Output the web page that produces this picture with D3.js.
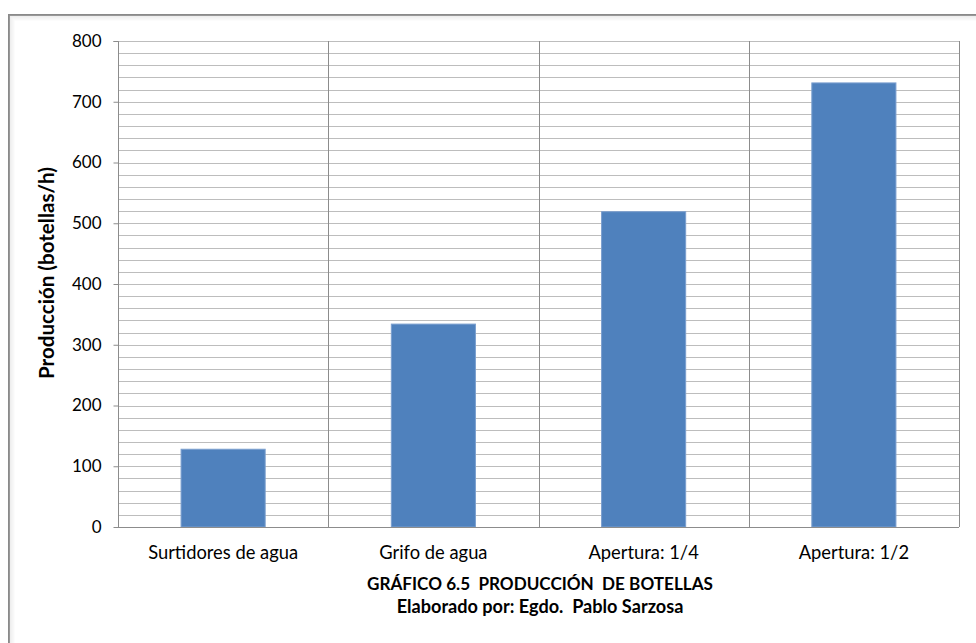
<!DOCTYPE html>
<html>
<head>
<meta charset="utf-8">
<script src="https://cdn.jsdelivr.net/npm/d3@7"></script>
<style>
  html, body { margin: 0; padding: 0; background: #fff; }
  svg { display: block; }
  text { font-family: Lato, "Open Sans", sans-serif; fill: #000; }
</style>
</head>
<body>
<svg id="chart" width="976" height="643"></svg>
<script>
const categories = ["Surtidores de agua", "Grifo de agua", "Apertura: 1/4", "Apertura: 1/2"];
const values = [128, 334, 519, 731];
const yTicks = [0, 100, 200, 300, 400, 500, 600, 700, 800];
const yMinorStep = 20;
const yTitle = "Producción (botellas/h)";
const titleLines = ["GRÁFICO 6.5  PRODUCCIÓN  DE BOTELLAS", "Elaborado por: Egdo.  Pablo Sarzosa"];

const svg = d3.select("#chart");
const W = 976, H = 643;
const plot = { left: 118, top: 41, right: 959, bottom: 527 };

// scale a text's font size so its length matches a target
function fitSize(sel, base, target) {
  sel.attr("font-size", base);
  const len = sel.node().getComputedTextLength();
  if (len > 0) sel.attr("font-size", (base * target / len).toFixed(2));
}

// outer frame with soft inner shadow
const frame = svg.append("g");
for (let i = 0; i < 6; i++) {
  frame.append("rect")
    .attr("x", 9 + i).attr("y", 15 + i)
    .attr("width", W + 20).attr("height", H + 20)
    .attr("fill", "none")
    .attr("stroke", i === 0 ? "#8a8a8a" : "#d0d0d0")
    .attr("stroke-opacity", i === 0 ? 1 : 0.5 - i * 0.08)
    .attr("stroke-width", i === 0 ? 2 : 1);
}

const x = d3.scaleBand().domain(categories).range([plot.left, plot.right]).paddingInner(0).paddingOuter(0);
const y = d3.scaleLinear().domain([0, 800]).range([plot.bottom, plot.top]);

// minor + major horizontal gridlines
const gridVals = d3.range(yMinorStep, 800 + 0.001, yMinorStep);
svg.append("g").selectAll("line").data(gridVals).join("line")
  .attr("x1", plot.left).attr("x2", plot.right)
  .attr("y1", d => Math.round(y(d)) + 0.5).attr("y2", d => Math.round(y(d)) + 0.5)
  .attr("stroke", "#bdbdbd").attr("stroke-width", 1);

// vertical category separators
const seps = categories.map(c => x(c) + x.bandwidth());
svg.append("g").selectAll("line").data(seps).join("line")
  .attr("x1", d => Math.round(d) + 0.5).attr("x2", d => Math.round(d) + 0.5)
  .attr("y1", plot.top).attr("y2", plot.bottom)
  .attr("stroke", "#8c8c8c").attr("stroke-width", 1);

// bars
const barW = x.bandwidth() * 0.4;
svg.append("g").selectAll("rect").data(values).join("rect")
  .attr("x", (d, i) => x(categories[i]) + (x.bandwidth() - barW) / 2)
  .attr("y", d => y(d))
  .attr("width", barW)
  .attr("height", d => y(0) - y(d))
  .attr("fill", "#4f81bd")
  .attr("stroke", "#7b9fcf").attr("stroke-width", 1);

// y axis
const yAxis = d3.axisLeft(y).tickValues(yTicks).tickSize(5).tickPadding(12).tickFormat(d3.format("d"));
const gy = svg.append("g").attr("transform", `translate(${plot.left + 0.5},0)`).call(yAxis);
gy.select(".domain").attr("stroke", "#8c8c8c").attr("d", `M-5,${plot.top + 0.5}H0V${plot.bottom + 0.5}`);
gy.selectAll(".tick line").attr("stroke", "#8c8c8c");
gy.selectAll(".tick text").attr("font-size", 17).attr("fill", "#1a1a1a")
  .style("font-family", "Lato, sans-serif");

// x axis baseline
svg.append("line")
  .attr("x1", plot.left).attr("x2", plot.right)
  .attr("y1", plot.bottom + 0.5).attr("y2", plot.bottom + 0.5)
  .attr("stroke", "#8c8c8c");

// x labels
const xl = svg.append("g").selectAll("text").data(categories).join("text")
  .attr("x", d => x(d) + x.bandwidth() / 2)
  .attr("y", 559)
  .attr("text-anchor", "middle")
  .attr("fill", "#1a1a1a")
  .text(d => d);
fitSize(xl.filter((d, i) => i === 0), 18, 150);
xl.attr("font-size", xl.filter((d, i) => i === 0).attr("font-size"));

// y title
const yt = svg.append("text")
  .attr("transform", "translate(54,273) rotate(-90)")
  .attr("text-anchor", "middle")
  .attr("font-weight", "bold")
  .text(yTitle);
fitSize(yt, 17, 212);

// chart title
const tl = svg.append("g").selectAll("text").data(titleLines).join("text")
  .attr("x", 540)
  .attr("y", (d, i) => 590 + i * 23)
  .attr("text-anchor", "middle")
  .attr("font-weight", "bold")
  .style("white-space", "pre")
  .attr("xml:space", "preserve")
  .text(d => d);
fitSize(tl.filter((d, i) => i === 0), 17, 346);
fitSize(tl.filter((d, i) => i === 1), 17, 287);
</script>
</body>
</html>
